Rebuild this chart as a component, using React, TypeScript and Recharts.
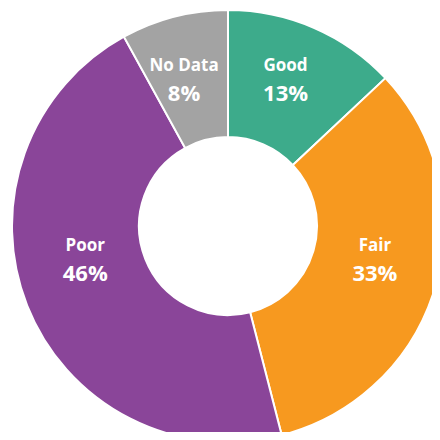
import { PieChart, Pie, Cell } from "recharts";

const categories = ["Good", "Fair", "Poor", "No Data"];
const shares = [13, 33, 46, 8];
const COLORS = ["#3dab8b", "#f7991f", "#8a4599", "#a3a3a3"];

const data = categories.map((name, i) => ({ name, value: shares[i] }));

// small hand nudges so the labels sit where the original put them
const NUDGE: Record<string, [number, number]> = {
  Good: [-3, -8],
  Fair: [0.5, -10.5],
  Poor: [-1, -24],
  "No Data": [-6, -0.5],
};

const RADIAN = Math.PI / 180;
const FONT = "'Open Sans', Lato, sans-serif";

const renderLabel = (props: any) => {
  const { cx, cy, midAngle, innerRadius, outerRadius, name, value } = props;
  const r = (innerRadius + outerRadius) / 2;
  const [dx, dy] = NUDGE[name] || [0, 0];
  const x = cx + r * Math.cos(-midAngle * RADIAN) + dx;
  const y = cy + r * Math.sin(-midAngle * RADIAN) + dy;
  return (
    <g>
      <text
        x={x}
        y={y - 13.5}
        fill="#fff"
        textAnchor="middle"
        dominantBaseline="central"
        fontSize={17}
        fontWeight={700}
        fontFamily={FONT}
      >
        {name}
      </text>
      <text
        x={x}
        y={y + 14}
        fill="#fff"
        textAnchor="middle"
        dominantBaseline="central"
        fontSize={22}
        fontWeight={700}
        fontFamily={FONT}
      >
        {value}%
      </text>
    </g>
  );
};

export default function App() {
  return (
    <div style={{ margin: -8, width: 440, height: 440, background: "#fff", overflow: "hidden" }}>
      <PieChart width={440} height={440} margin={{ top: 0, right: 0, bottom: 0, left: 0 }}>
        <Pie
          data={data}
          dataKey="value"
          nameKey="name"
          cx={228}
          cy={226}
          innerRadius={89}
          outerRadius={216}
          startAngle={90}
          endAngle={-270}
          stroke="#fff"
          strokeWidth={2}
          label={renderLabel}
          labelLine={false}
          isAnimationActive={false}
        >
          {data.map((entry, index) => (
            <Cell key={`cell-${index}`} fill={COLORS[index % COLORS.length]} />
          ))}
        </Pie>
      </PieChart>
    </div>
  );
}
